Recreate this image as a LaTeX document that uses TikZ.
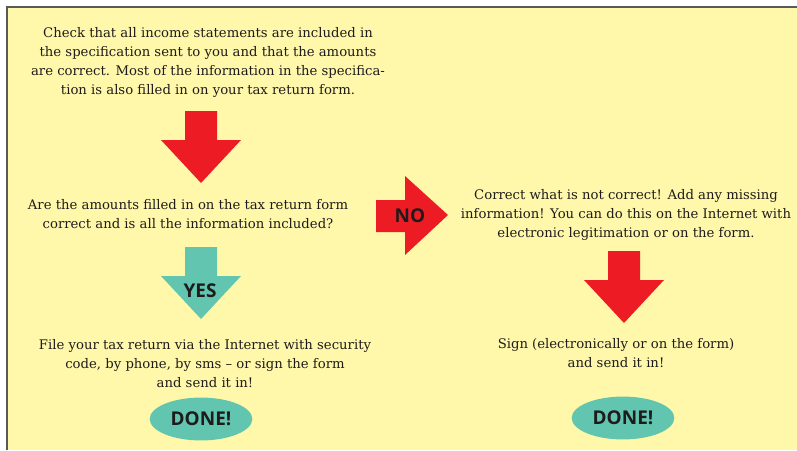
\documentclass[tikz,border=0pt]{standalone}
\usepackage{fontspec}
\setmainfont{DejaVu Serif}
\newfontfamily\badgefont{Open Sans}
\usepackage{tikz}
\usetikzlibrary{positioning,shapes.geometric}
\definecolor{formyellow}{RGB}{255,248,170}
\definecolor{stopred}{RGB}{237,28,36}
\definecolor{goteal}{RGB}{98,197,176}
\definecolor{inkgray}{RGB}{30,27,28}
\tikzset{
  every picture/.style={line join=miter},
  steptext/.style={align=center, text=inkgray, font=\fontsize{9.4}{13.5}\selectfont, inner sep=0pt},
  badge/.style={text=inkgray, font=\badgefont\bfseries\fontsize{13.5}{14}\selectfont, inner sep=0pt},
  donebadge/.style={ellipse, fill=goteal, minimum width=73pt, minimum height=30.5pt, inner sep=0pt,
    text=inkgray, font=\badgefont\bfseries\fontsize{13.5}{14}\selectfont},
}
\newcommand{\downblock}[3]{% x centre, y top, colour
  \fill[#3] (#1-16,#2)--(#1+16,#2)--(#1+16,#2+29)--(#1+40,#2+29)--(#1,#2+72)
    --(#1-40,#2+29)--(#1-16,#2+29)--cycle;}
\begin{document}
\begin{tikzpicture}[x=0.025cm,y=-0.025cm]
\useasboundingbox (0,0) rectangle (797,450);
% frame
\fill[formyellow] (7,7) rectangle (797,450);
\draw[gray!70!black, line width=1.5] (7,450)--(7,7)--(797,7);

% left column
\node[steptext] (check) at (208,62) {Check that all income statements are included in\\
the specification sent to you and that the amounts\\
are correct. Most of the information in the specifica-\\
tion is also filled in on your tax return form.};
\node[steptext] (amounts) at (188,214) {Are the amounts filled in on the tax return form\\
correct and is all the information included?};
\node[steptext] (file) at (205,364) {File your tax return via the Internet with security\\
code, by phone, by sms -- or sign the form\\
and send it in!};
\node[donebadge] (done1) at (201,419) {DONE!};

% right column
\node[steptext] (fix) at (626,215) {Correct what is not correct! Add any missing\\
information! You can do this on the Internet with\\
electronic legitimation or on the form.};
\node[steptext] (sign) at (616,353) {Sign (electronically or on the form)\\
and send it in!};
\node[donebadge] (done2) at (623,418) {DONE!};

% arrows
\downblock{201}{111}{stopred}
\downblock{201}{247}{goteal}
\node[badge] (yes) at (200,291) {YES};
\downblock{624}{251}{stopred}
\fill[stopred] (376,200)--(405,200)--(405,176)--(448,215)--(405,255)--(405,232)--(376,232)--cycle;
\node[badge] (no) at (410,216) {NO};
\end{tikzpicture}
\end{document}
